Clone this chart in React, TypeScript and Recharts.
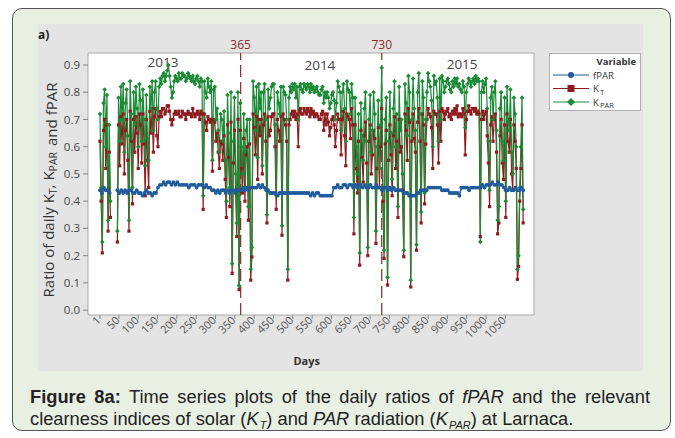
import React from 'react';
import { LineChart, Line, XAxis, YAxis, CartesianGrid, ReferenceArea, ReferenceLine, ReferenceDot } from 'recharts';

// fPAR read every 5th day, the clearness indices every 3rd day; all start on day 1 (null = missing days)
const START_DAY = 1;
const FPAR_STEP = 5;
const K_STEP = 3;

const fPAR = [
  0.44, 0.43, 0.45, 0.44, 0.44, 0.43, null, null, null, 0.44,
  0.43, 0.44, 0.43, 0.44, 0.43, 0.44, 0.44, 0.43, 0.43, 0.44,
  0.43, 0.43, 0.42, 0.43, 0.44, 0.43, 0.43, 0.42, 0.43, 0.43,
  0.45, 0.46, 0.46, 0.47, 0.46, 0.47, 0.47, 0.46, 0.47, 0.46,
  0.47, 0.46, 0.46, 0.46, 0.46, 0.46, 0.45, 0.46, 0.46, 0.46,
  0.45, 0.46, 0.46, 0.46, 0.45, 0.46, 0.45, 0.45, 0.44, 0.44,
  0.43, 0.44, 0.43, 0.44, 0.44, 0.43, 0.44, 0.43, 0.44, 0.44,
  0.43, 0.44, 0.44, 0.44, 0.45, 0.44, 0.45, 0.44, 0.45, 0.45,
  0.45, 0.45, 0.46, 0.45, 0.46, 0.45, 0.44, 0.44, 0.43, 0.43,
  0.43, 0.43, 0.42, 0.43, 0.43, 0.43, 0.43, 0.43, 0.43, 0.43,
  0.43, 0.43, 0.43, 0.43, 0.43, 0.43, 0.43, 0.43, 0.43, 0.42,
  0.43, 0.42, 0.43, 0.43, 0.42, 0.42, 0.42, 0.42, 0.42, 0.42,
  0.42, 0.45, 0.45, 0.46, 0.45, 0.45, 0.46, 0.46, 0.45, 0.46,
  0.46, 0.45, 0.46, 0.45, 0.46, 0.46, 0.45, 0.46, 0.45, 0.45,
  0.46, 0.45, 0.45, 0.46, 0.45, 0.45, 0.44, 0.45, 0.45, 0.44,
  0.45, 0.44, 0.45, 0.44, 0.44, 0.44, 0.44, 0.43, 0.43, 0.43,
  0.42, 0.42, 0.42, 0.42, 0.43, 0.43, 0.44, 0.44, 0.44, 0.44,
  0.45, 0.45, 0.45, 0.45, 0.45, 0.45, 0.45, 0.44, 0.44, 0.44,
  0.44, 0.43, 0.43, 0.43, 0.43, 0.43, 0.42, 0.45, 0.45, 0.45,
  0.45, 0.44, 0.45, 0.45, 0.45, 0.45, 0.45, 0.45, 0.46, 0.45,
  0.46, 0.46, 0.46, 0.47, 0.46, 0.46, 0.47, 0.46, 0.46, 0.45,
  0.44, 0.44, 0.45, 0.44, 0.44, 0.45, 0.44, 0.44, 0.45, 0.44,
];

const kT = [
  0.62, 0.40, 0.21, 0.66, 0.70, 0.52, 0.68, 0.29, 0.58, 0.34,
  null, null, null, null, null, 0.25, 0.68, 0.53, 0.71, 0.61,
  0.72, 0.50, 0.66, 0.70, 0.55, 0.29, 0.73, 0.62, 0.39, 0.70,
  0.58, 0.71, 0.65, 0.52, 0.72, 0.68, 0.54, 0.72, 0.61, 0.42,
  0.70, 0.55, 0.45, 0.73, 0.65, 0.74, 0.58, 0.71, 0.74, 0.64,
  0.60, 0.71, 0.73, 0.71, 0.74, 0.74, 0.72, 0.73, 0.75, 0.75,
  0.73, 0.70, 0.68, 0.70, 0.72, 0.73, 0.72, 0.72, 0.73, 0.71,
  0.71, 0.73, 0.72, 0.72, 0.70, 0.72, 0.73, 0.72, 0.72, 0.71,
  0.74, 0.72, 0.71, 0.72, 0.73, 0.72, 0.70, 0.73, 0.72, 0.37,
  0.72, 0.69, 0.66, 0.71, 0.70, 0.69, 0.70, 0.51, 0.70, 0.69,
  0.62, 0.65, 0.58, 0.52, 0.62, 0.61, 0.55, 0.64, 0.48, 0.34,
  0.68, 0.56, 0.38, 0.69, 0.135, 0.54, 0.66, 0.44, 0.27, 0.70,
  0.075, 0.66, 0.52, 0.43, 0.63, 0.40, 0.57, 0.60, 0.33, 0.61,
  0.11, 0.195, 0.72, 0.67, 0.57, 0.71, 0.48, 0.70, 0.64, 0.70,
  0.50, 0.68, 0.72, 0.62, 0.32, 0.71, 0.64, 0.66, 0.71, 0.72,
  0.72, 0.60, 0.37, 0.70, 0.66, 0.62, 0.71, 0.275, 0.72, 0.70,
  0.68, 0.62, 0.11, 0.68, 0.70, 0.72, 0.73, 0.71, 0.73, 0.70,
  0.72, 0.60, 0.73, 0.74, 0.72, 0.72, 0.74, 0.73, 0.72, 0.74,
  0.73, 0.71, 0.74, 0.72, 0.73, 0.71, 0.72, 0.72, 0.71, 0.70,
  0.70, 0.72, 0.73, 0.66, 0.72, 0.68, 0.72, 0.69, 0.64, 0.67,
  0.70, 0.71, 0.68, 0.60, 0.66, 0.72, 0.70, 0.70, 0.57, 0.70,
  0.73, 0.64, 0.53, 0.72, 0.71, 0.70, 0.63, 0.74, 0.68, 0.28,
  0.68, 0.52, 0.43, 0.62, 0.165, 0.66, 0.56, 0.47, 0.64, 0.69,
  0.54, 0.20, 0.62, 0.68, 0.50, 0.57, 0.66, 0.63, 0.245, 0.52,
  0.67, 0.45, 0.60, 0.74, 0.40, 0.19, 0.61, 0.66, 0.092, 0.55,
  0.68, 0.57, 0.42, 0.64, 0.71, 0.52, 0.62, 0.34, 0.70, 0.58,
  0.60, 0.44, 0.196, 0.72, 0.66, 0.55, 0.74, 0.69, 0.085, 0.62,
  0.72, 0.63, 0.58, 0.22, 0.69, 0.74, 0.62, 0.32, 0.72, 0.68,
  0.39, 0.61, 0.70, 0.74, 0.72, 0.71, 0.67, 0.52, 0.73, 0.72,
  0.72, 0.68, 0.54, 0.73, 0.62, 0.74, 0.73, 0.70, 0.72, 0.73,
  0.74, 0.71, 0.72, 0.70, 0.73, 0.72, 0.74, 0.72, 0.75, 0.71,
  0.72, 0.72, 0.71, 0.74, 0.72, 0.57, 0.70, 0.73, 0.75, 0.73,
  0.72, 0.74, 0.74, 0.73, 0.74, 0.72, 0.73, 0.72, 0.27, 0.70,
  0.73, 0.70, 0.72, 0.73, 0.64, 0.54, 0.38, 0.68, 0.71, 0.62,
  0.70, 0.72, 0.58, 0.28, 0.32, 0.64, 0.70, 0.54, 0.48, 0.68,
  0.34, 0.72, 0.62, 0.58, 0.70, 0.50, 0.44, 0.68, 0.62, 0.52,
  0.113, 0.16, 0.40, 0.52, 0.68, 0.32,
];

const kPAR = [
  0.72, 0.45, 0.25, 0.76, 0.81, 0.60, 0.79, 0.33, 0.68, 0.40,
  null, null, null, null, null, 0.29, 0.78, 0.62, 0.82, 0.70,
  0.83, 0.58, 0.76, 0.81, 0.64, 0.33, 0.84, 0.72, 0.45, 0.80,
  0.68, 0.82, 0.74, 0.60, 0.83, 0.77, 0.62, 0.81, 0.70, 0.53,
  0.79, 0.63, 0.55, 0.82, 0.74, 0.84, 0.66, 0.80, 0.84, 0.74,
  0.70, 0.82, 0.85, 0.83, 0.86, 0.87, 0.84, 0.86, 0.88, 0.90,
  0.86, 0.82, 0.78, 0.80, 0.84, 0.86, 0.85, 0.84, 0.87, 0.85,
  0.85, 0.87, 0.86, 0.86, 0.84, 0.85, 0.87, 0.86, 0.85, 0.84,
  0.86, 0.84, 0.83, 0.85, 0.86, 0.84, 0.82, 0.85, 0.84, 0.42,
  0.84, 0.80, 0.78, 0.85, 0.82, 0.80, 0.84, 0.55, 0.81, 0.82,
  0.70, 0.74, 0.66, 0.58, 0.72, 0.70, 0.62, 0.73, 0.55, 0.40,
  0.79, 0.65, 0.45, 0.80, 0.17, 0.62, 0.78, 0.50, 0.32, 0.80,
  0.09, 0.76, 0.60, 0.50, 0.72, 0.45, 0.66, 0.70, 0.38, 0.70,
  0.15, 0.23, 0.84, 0.78, 0.66, 0.82, 0.56, 0.83, 0.74, 0.80,
  0.53, 0.80, 0.83, 0.70, 0.35, 0.81, 0.74, 0.78, 0.82, 0.83,
  0.83, 0.68, 0.42, 0.80, 0.76, 0.72, 0.82, 0.31, 0.82, 0.80,
  0.79, 0.70, 0.15, 0.78, 0.82, 0.80, 0.83, 0.81, 0.83, 0.78,
  0.82, 0.70, 0.82, 0.83, 0.81, 0.80, 0.83, 0.82, 0.81, 0.83,
  0.82, 0.80, 0.83, 0.81, 0.82, 0.80, 0.81, 0.82, 0.80, 0.79,
  0.79, 0.81, 0.82, 0.76, 0.80, 0.78, 0.80, 0.78, 0.74, 0.76,
  0.79, 0.80, 0.77, 0.70, 0.76, 0.84, 0.82, 0.80, 0.66, 0.80,
  0.83, 0.74, 0.62, 0.84, 0.81, 0.80, 0.72, 0.83, 0.78, 0.34,
  0.78, 0.60, 0.50, 0.72, 0.21, 0.76, 0.64, 0.55, 0.74, 0.80,
  0.62, 0.23, 0.70, 0.79, 0.58, 0.66, 0.80, 0.72, 0.29, 0.60,
  0.77, 0.52, 0.68, 0.89, 0.45, 0.22, 0.70, 0.78, 0.12, 0.62,
  0.80, 0.65, 0.48, 0.74, 0.84, 0.60, 0.72, 0.38, 0.82, 0.66,
  0.70, 0.50, 0.22, 0.83, 0.76, 0.64, 0.86, 0.80, 0.11, 0.70,
  0.85, 0.74, 0.66, 0.24, 0.80, 0.87, 0.72, 0.36, 0.84, 0.78,
  0.43, 0.70, 0.80, 0.87, 0.84, 0.82, 0.77, 0.60, 0.86, 0.83,
  0.84, 0.78, 0.62, 0.85, 0.70, 0.86, 0.84, 0.80, 0.82, 0.84,
  0.85, 0.83, 0.81, 0.80, 0.84, 0.82, 0.85, 0.83, 0.85, 0.82,
  0.83, 0.81, 0.80, 0.84, 0.82, 0.67, 0.80, 0.83, 0.85, 0.84,
  0.82, 0.84, 0.85, 0.83, 0.86, 0.84, 0.85, 0.84, 0.25, 0.80,
  0.84, 0.80, 0.83, 0.85, 0.74, 0.62, 0.44, 0.78, 0.82, 0.70,
  0.80, 0.84, 0.66, 0.33, 0.38, 0.74, 0.80, 0.62, 0.55, 0.78,
  0.40, 0.82, 0.70, 0.66, 0.81, 0.58, 0.50, 0.78, 0.72, 0.60,
  0.15, 0.20, 0.45, 0.60, 0.78, 0.37,
];

const dayTicks = [1, 50, 100, 150, 200, 250, 300, 350, 400, 450, 500, 550, 600, 650, 700, 750, 800, 850, 900, 950, 1000, 1050];
const ratioTicks = [0, 0.1, 0.2, 0.3, 0.4, 0.5, 0.6, 0.7, 0.8, 0.9];
const yearBreaks = [365, 730];
const yearNames = ['2013', '2014', '2015'];
const yearMidDays = [164, 570, 938];
const yearLabelLevels = [0.893, 0.882, 0.886];

const fparRows = fPAR.map((v, i) => ({ day: START_DAY + i * FPAR_STEP, fPAR: v }));
const kRows = kT.map((v, i) => ({ day: START_DAY + i * K_STEP, kT: v, kPAR: kPAR[i] }));

const BLUE = '#1f5b9c';
const RED = '#8e1b1e';
const GREEN = '#1b8a34';
const MARK = '#8b2a2a';
const FONT = "'Open Sans', 'DejaVu Sans', sans-serif";

const makeDot = (shape: string, color: string) => (p: any) => {
  const { cx, cy, index } = p;
  if (cx == null || cy == null || p.value == null) return <g key={`e-${index}`} />;
  if (shape === 'square') {
    return <rect key={`s-${index}`} x={cx - 1.6} y={cy - 1.6} width={3.2} height={3.2} fill={color} />;
  }
  if (shape === 'diamond') {
    const r = 2.3;
    return <path key={`d-${index}`} d={`M${cx},${cy - r}L${cx + r},${cy}L${cx},${cy + r}L${cx - r},${cy}Z`} fill={color} />;
  }
  return <circle key={`c-${index}`} cx={cx} cy={cy} r={1.9} fill={color} />;
};

const DayTick = (props: any) => {
  const { x, y, payload } = props;
  return (
    <g transform={`translate(${x},${y})`}>
      <text x={0} y={0} dx={1} dy={1} textAnchor="end" transform="rotate(-45)" fontSize={11} fill="#555" fontFamily={FONT}>
        {payload.value}
      </text>
    </g>
  );
};

const YLabel = (props: any) => {
  const { viewBox } = props;
  const x = viewBox.x + 15.5;
  const y = viewBox.y + viewBox.height / 2 + 6;
  return (
    <text x={x} y={y} transform={`rotate(-90, ${x}, ${y})`} textAnchor="middle" fontSize={15} fill="#333" fontFamily={FONT}>
      Ratio of daily K<tspan dy={3} fontSize={10.5}>T</tspan>
      <tspan dy={-3}>, K</tspan>
      <tspan dy={3} fontSize={10.5}>PAR</tspan>
      <tspan dx={6} dy={0}>and fPAR</tspan>
    </text>
  );
};

const XLabel = (props: any) => {
  const { viewBox } = props;
  return (
    <text x={viewBox.x + 218.7} y={viewBox.y + 50} textAnchor="middle" fontSize={11} fontWeight="bold" fill="#333" fontFamily={FONT}>
      Days
    </text>
  );
};

const BreakLabel = (props: any) => {
  const { viewBox, value } = props;
  return (
    <text x={viewBox.x} y={viewBox.y - 4} textAnchor="middle" fontSize={12} fill={MARK} fontFamily={FONT}>
      {value}
    </text>
  );
};

const YearLabel = (props: any) => {
  const { viewBox, value } = props;
  return (
    <text x={viewBox.x} y={viewBox.y} textAnchor="middle" fontSize={13.5} fill="#444" fontFamily={FONT}>
      {value}
    </text>
  );
};

const VariableLegend = () => (
  <svg width={92} height={58} style={{ display: 'block' }}>
    <rect x={0.5} y={0.5} width={91} height={57} fill="#fff" stroke="#b0b0b0" />
    <text x={87} y={11.5} textAnchor="end" fontSize={9.5} fontWeight="bold" fill="#333" fontFamily={FONT}>Variable</text>
    <line x1={4} x2={40} y1={22} y2={22} stroke={BLUE} strokeWidth={1} />
    <circle cx={22} cy={22} r={3} fill={BLUE} />
    <text x={44} y={25.5} fontSize={9.5} fill="#333" fontFamily={FONT}>fPAR</text>
    <line x1={4} x2={40} y1={35.5} y2={35.5} stroke={RED} strokeWidth={1} />
    <rect x={18.5} y={32} width={7} height={7} fill={RED} />
    <text x={44} y={39} fontSize={9.5} fill="#333" fontFamily={FONT}>K</text>
    <text x={51} y={41.5} fontSize={7.5} fill="#333" fontFamily={FONT}>T</text>
    <line x1={4} x2={40} y1={49} y2={49} stroke={GREEN} strokeWidth={1} />
    <path d="M22,45L26,49L22,53L18,49Z" fill={GREEN} />
    <text x={44} y={52.5} fontSize={9.5} fill="#333" fontFamily={FONT}>K</text>
    <text x={51} y={55} fontSize={7.5} fill="#333" fontFamily={FONT}>PAR</text>
  </svg>
);

const subStyle: React.CSSProperties = { fontSize: '0.6em', verticalAlign: '-0.35em', lineHeight: 0, marginLeft: 1 };

export default function App() {
  return (
    <div style={{ position: 'absolute', left: 0, top: 0, width: 675, height: 438, background: '#fff', overflow: 'hidden' }}>
      <div
        style={{
          position: 'absolute', left: 12, top: 8, width: 659, height: 423,
          border: '1.5px solid #555', borderRadius: 10, background: '#e8f0e4', boxSizing: 'border-box',
        }}
      />
      <div style={{ position: 'absolute', left: 38, top: 24, width: 605, height: 347, background: '#e4e4e4' }} />
      <div style={{ position: 'absolute', left: 38, top: 26, fontFamily: FONT, fontWeight: 'bold', fontSize: 12, color: '#222' }}>a)</div>
      <div style={{ position: 'absolute', left: 38, top: 24 }}>
        <LineChart width={605} height={347} margin={{ top: 29, right: 109, bottom: 16, left: 0 }}>
          <CartesianGrid horizontal={false} vertical={false} fill="#fff" />
          <XAxis
            dataKey="day"
            type="number"
            domain={[-30, 1124]}
            ticks={dayTicks}
            interval={0}
            height={40}
            tickSize={4}
            axisLine={false}
            tickLine={{ stroke: '#888' }}
            tick={<DayTick />}
            label={<XLabel />}
            allowDuplicatedCategory={false}
          />
          <YAxis
            type="number"
            domain={[-0.018, 0.944]}
            ticks={ratioTicks}
            interval={0}
            width={50}
            tickSize={5}
            tickMargin={3}
            axisLine={false}
            tickLine={{ stroke: '#888' }}
            tickFormatter={(v: number) => v.toFixed(1)}
            tick={{ fontSize: 11.5, fill: '#444', fontFamily: FONT }}
            label={<YLabel />}
          />
          <ReferenceArea x1={-30} x2={1124} y1={-0.018} y2={0.944} fill="none" stroke="#a8a8a8" strokeWidth={1} />
          {yearBreaks.map((d) => (
            <ReferenceLine
              key={d}
              x={d}
              stroke={MARK}
              strokeWidth={1.2}
              strokeDasharray="12 5"
              label={<BreakLabel value={String(d)} />}
            />
          ))}
          {yearNames.map((name, i) => (
            <ReferenceDot
              key={name}
              x={yearMidDays[i]}
              y={yearLabelLevels[i]}
              r={0}
              fill="none"
              stroke="none"
              label={<YearLabel value={name} />}
            />
          ))}
          <Line
            data={kRows}
            dataKey="kT"
            name="KT"
            type="linear"
            stroke={RED}
            strokeWidth={1.2}
            dot={makeDot('square', RED)}
            activeDot={false}
            isAnimationActive={false}
          />
          <Line
            data={kRows}
            dataKey="kPAR"
            name="KPAR"
            type="linear"
            stroke={GREEN}
            strokeWidth={1.2}
            dot={makeDot('diamond', GREEN)}
            activeDot={false}
            isAnimationActive={false}
          />
          <Line
            data={fparRows}
            dataKey="fPAR"
            name="fPAR"
            type="linear"
            stroke={BLUE}
            strokeWidth={1.6}
            dot={makeDot('circle', BLUE)}
            activeDot={false}
            isAnimationActive={false}
          />
        </LineChart>
      </div>
      <div style={{ position: 'absolute', left: 549, top: 53 }}>
        <VariableLegend />
      </div>
      <div
        style={{
          position: 'absolute', left: 30, top: 385.5, width: 620,
          fontFamily: "'Liberation Sans', Arial, sans-serif", fontSize: 18.3, lineHeight: '22.5px', color: '#222',
        }}
      >
        <div style={{ textAlign: 'justify', textAlignLast: 'justify', whiteSpace: 'nowrap' as any }}>
          <b>Figure 8a:</b> Time series plots of the daily ratios of <i>fPAR</i> and the relevant
        </div>
        <div>
          clearness indices of solar (<i>K</i><sub style={subStyle}><i>T</i></sub>) and <i>PAR</i> radiation
          (<i>K</i><sub style={subStyle}><i>PAR</i></sub>) at Larnaca.
        </div>
      </div>
    </div>
  );
}
